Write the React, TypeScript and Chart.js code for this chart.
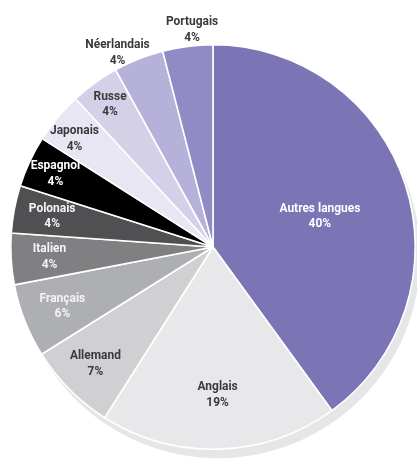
import React, { useEffect, useRef } from "react";
import { Chart, ArcElement, PieController } from "chart.js";

Chart.register(ArcElement, PieController);

// ---- data ----
const languages = [
  "Autres langues",
  "Anglais",
  "Allemand",
  "Français",
  "Italien",
  "Polonais",
  "Espagnol",
  "Japonais",
  "Russe",
  "Néerlandais",
  "Portugais",
];
const shares = [40, 19, 7.1, 5.9, 4.1, 3.8, 4.1, 4.1, 3.9, 4.0, 4.0];
const shareLabels = ["40%", "19%", "7%", "6%", "4%", "4%", "4%", "4%", "4%", "4%", "4%"];

// ---- style ----
const sliceColors = [
  "#7b74b5",
  "#e8e8ea",
  "#d0d0d2",
  "#aeafb3",
  "#808083",
  "#505052",
  "#000000",
  "#e7e6f2",
  "#d3d0e8",
  "#b6b1d9",
  "#918bc5",
];
const labelColors = [
  "#ffffff",
  "#3a3a3c",
  "#3a3a3c",
  "#f4f4f6",
  "#f4f4f6",
  "#f4f4f6",
  "#ffffff",
  "#3a3a3c",
  "#3a3a3c",
  "#3a3a3c",
  "#3a3a3c",
];
const labelRadius = [0.55, 0.73, 0.82, 0.8, 0.81, 0.81, 0.86, 0.87, 0.87, 1.07, 1.08];
const labelAngleShift = [2, 0, 0, 0, 0, 0, 0, -1.7, 0, -4.6, 1.7];
const FONT = 'Roboto, "Open Sans", sans-serif';
const TEXT_SQUEEZE = 0.92;

const shadowPlugin = {
  id: "pieShadow",
  beforeDatasetsDraw(chart: any) {
    const arc = chart.getDatasetMeta(0).data[0];
    if (!arc) return;
    const { x, y, outerRadius } = arc.getProps(["x", "y", "outerRadius"], true);
    const ctx = chart.ctx;
    ctx.save();
    ctx.fillStyle = "#e6e6e8";
    ctx.beginPath();
    ctx.arc(x + 5, y + 9, outerRadius, 0, Math.PI * 2);
    ctx.fill();
    ctx.restore();
  },
};

const labelPlugin = {
  id: "sliceLabels",
  afterDatasetsDraw(chart: any) {
    const ctx = chart.ctx;
    const meta = chart.getDatasetMeta(0);
    meta.data.forEach((el: any, i: number) => {
      const { x, y, startAngle, endAngle, outerRadius } = el.getProps(
        ["x", "y", "startAngle", "endAngle", "outerRadius"],
        true
      );
      const mid = (startAngle + endAngle) / 2 + (labelAngleShift[i] * Math.PI) / 180;
      const r = outerRadius * labelRadius[i];
      const px = x + Math.cos(mid) * r;
      const py = y + Math.sin(mid) * r;
      ctx.save();
      ctx.translate(px, py);
      ctx.scale(TEXT_SQUEEZE, 1);
      ctx.font = `bold 13px ${FONT}`;
      ctx.textAlign = "center";
      ctx.textBaseline = "middle";
      ctx.fillStyle = labelColors[i];
      ctx.fillText(languages[i], 0, -7.8);
      ctx.fillText(shareLabels[i], 0, 7.8);
      ctx.restore();
    });
  },
};

export default function App() {
  const ref = useRef<HTMLCanvasElement | null>(null);
  useEffect(() => {
    document.body.style.margin = "0";
    if (!ref.current) return;
    const chart = new Chart(ref.current, {
      type: "pie",
      data: {
        labels: languages,
        datasets: [
          {
            data: shares,
            backgroundColor: sliceColors,
            borderColor: "#ffffff",
            borderWidth: 1.6,
          },
        ],
      },
      options: {
        responsive: false,
        animation: false,
        devicePixelRatio: 1,
        layout: { padding: { left: 10, right: 1, top: 43, bottom: 10 } },
        plugins: {
          legend: { display: false },
          tooltip: { enabled: false },
        },
      },
      plugins: [shadowPlugin, labelPlugin],
    });
    return () => chart.destroy();
  }, []);
  return (
    <div style={{ position: "absolute", left: 0, top: 0, width: 417, height: 461, background: "#fff" }}>
      <canvas ref={ref} width={417} height={461} />
    </div>
  );
}
